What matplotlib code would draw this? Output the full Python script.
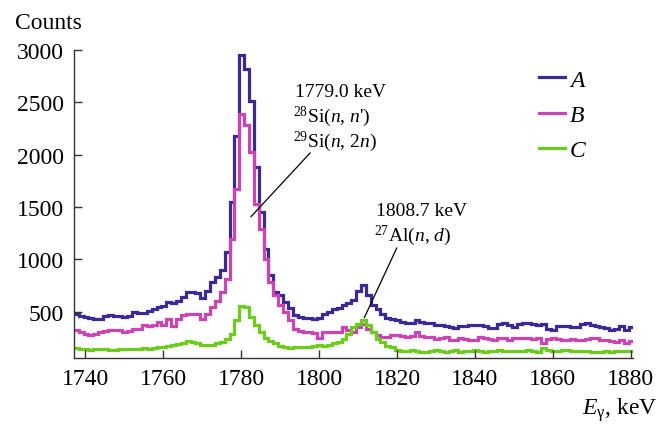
import numpy as np
import matplotlib.pyplot as plt

plt.rcParams['font.family'] = ['Liberation Serif', 'DejaVu Serif']
plt.rcParams['mathtext.fontset'] = 'custom'
plt.rcParams['mathtext.rm'] = 'Liberation Serif'
plt.rcParams['mathtext.it'] = 'Liberation Serif:italic'

# spectrum binning (keV)
e_start = 1737.0
e_bin = 1.25

# counts per bin
counts_a = [480, 455, 450, 440, 430, 425, 460, 465, 460, 455,
            450, 455, 495, 490, 485, 505, 525, 540, 550, 590,
            585, 605, 640, 690, 690, 675, 625, 700, 780, 830,
            900, 1070, 1550, 2180, 2950, 2820, 2515, 1880, 1450, 1100,
            850, 690, 655, 595, 530, 465, 450, 440, 440, 430,
            440, 480, 500, 520, 530, 560, 580, 610, 700, 750,
            660, 560, 520, 480, 435, 430,
            415, 400, 390, 395, 415, 400, 390, 395, 375, 370,
            365, 350, 345, 360, 365, 375, 375, 370, 365, 345,
            340, 385, 390, 375, 355, 380, 395, 395, 380, 375,
            378, 330, 325, 360, 365, 360, 355, 355, 385, 390,
            375, 365, 355, 340, 325, 335, 360, 325, 350]
counts_b = [320, 300, 290, 280, 290, 300, 310, 322, 322, 320,
            309, 310, 330, 338, 370, 360, 370, 400, 370, 430,
            360, 430, 465, 480, 480, 480, 433, 480, 540, 600,
            690, 815, 1197, 1674, 2390, 2280, 2025, 1530, 1290, 1000,
            785, 655, 560, 497, 420, 330, 310, 305, 300, 295,
            250, 300, 300, 305, 305, 355, 320, 300, 350, 385,
            330, 300, 275, 260, 255, 275,
            280, 265, 260, 265, 300, 270, 255, 260, 240, 250,
            255, 225, 230, 245, 240, 225, 230, 255, 245, 240,
            225, 245, 250, 230, 245, 250, 245, 250, 240, 245,
            195, 240, 245, 235, 230, 230, 240, 225, 225, 240,
            250, 245, 230, 230, 215, 210, 225, 195, 215]
counts_c = [150, 140, 140, 135, 140, 145, 140, 135, 135, 140,
            140, 145, 140, 145, 150, 145, 150, 160,
            163, 170, 178, 190, 200, 215, 210, 195, 185, 180,
            185, 200, 210, 235, 290, 420, 550, 540, 450, 370,
            300, 245, 215, 200, 170, 160,
            155, 160, 160, 165, 165, 170, 185, 175, 180, 200,
            210, 240, 290, 354, 385, 420, 370, 306, 242, 210,
            175, 157,
            135, 125, 120, 130, 125, 110, 115, 120, 130, 120,
            110, 125, 130, 115, 120, 125, 130, 120, 115, 125,
            120, 130, 125, 120, 120, 125, 120, 130, 125, 115,
            150, 130, 125, 120, 130, 130, 125, 120, 125, 120,
            115, 110, 115, 120, 110, 120, 125, 120, 120]

edges = e_start + e_bin * np.arange(len(counts_a) + 1)

fig = plt.figure(figsize=(6.63, 4.27), dpi=100)
ax = fig.add_axes([0.1113, 0.159, 0.8440, 0.7213])

ax.stairs(counts_a, edges, baseline=None, color='#3b2a96', lw=2.3, label='$A$')
ax.stairs(counts_b, edges, baseline=None, color='#cc44b4', lw=2.3, label='$B$')
ax.stairs(counts_c, edges, baseline=None, color='#6ccc1c', lw=2.3, label='$C$')

ax.set_xlim(1737, 1880.7)
ax.set_ylim(55, 3000)
ax.set_xticks(range(1740, 1881, 20))
ax.set_yticks(range(500, 3001, 500))
ax.tick_params(direction='in', length=6, width=1, labelsize=17, color='#333333')
ax.tick_params(axis='x', pad=7)
ax.tick_params(axis='y', pad=7)
for s in ['top', 'right']:
    ax.spines[s].set_visible(False)
for s in ['left', 'bottom']:
    ax.spines[s].set_color('#333333')
    ax.spines[s].set_linewidth(1)

# peak labels
ax.text(1793.8, 2561, '1779.0 keV', fontsize=14, va='baseline')
ax.text(1793.4, 2325, "$^{28}$Si($n$, $n$')", fontsize=14, va='baseline')
ax.text(1793.4, 2087, '$^{29}$Si($n$, 2$n$)', fontsize=14, va='baseline')
ax.annotate('', xy=(1782.0, 1387), xytext=(1798.2, 2037),
            arrowprops=dict(arrowstyle='-', color='black', lw=0.9))

ax.text(1814.6, 1425, '1808.7 keV', fontsize=14, va='baseline')
ax.text(1814.2, 1180, '$^{27}$Al($n$, $d$)', fontsize=14, va='baseline')
ax.annotate('', xy=(1811.3, 417), xytext=(1820.25, 1133),
            arrowprops=dict(arrowstyle='-', color='black', lw=0.9))

ax.legend(loc='center left', bbox_to_anchor=(0.813, 0.728),
          bbox_transform=fig.transFigure, frameon=False, fontsize=17,
          handlelength=1.1, handletextpad=0.15, labelspacing=0.58,
          borderpad=0, borderaxespad=0)

fig.text(0.0226, 0.933, 'Counts', fontsize=17, va='baseline')
fig.text(0.991, 0.028, r'$E_{\mathrm{\gamma}}$, keV', fontsize=17,
         ha='right', va='baseline')

fig.savefig('out.png', dpi=100)
